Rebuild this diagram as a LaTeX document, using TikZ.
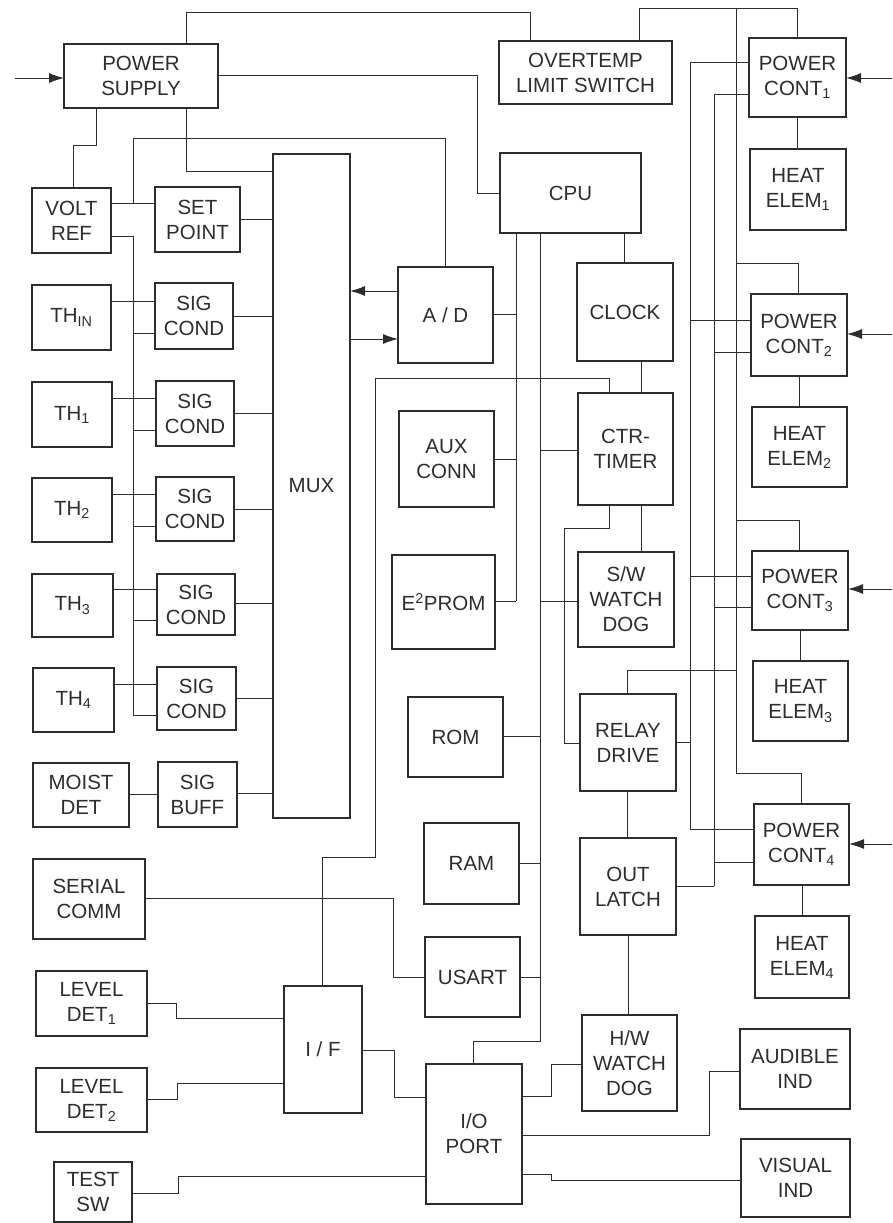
\documentclass[tikz,border=0pt]{standalone}
\usepackage{fontspec}
\setmainfont{Liberation Sans}
\usetikzlibrary{arrows.meta}
\definecolor{ink}{RGB}{45,45,45}
\newcommand\blk[6]{%
  \pgfmathsetmacro\blkw{#4-#2}%
  \pgfmathsetmacro\blkh{#5-#3}%
  \pgfmathsetmacro\blkx{(#2+#4)/2}%
  \pgfmathsetmacro\blky{(#3+#5)/2}%
  \node[box,minimum width=\blkw pt,minimum height=\blkh pt] (#1) at (\blkx,\blky) {#6};%
}
\begin{document}
\begin{tikzpicture}[x=1pt,y=-1pt,
  box/.style={draw=ink,line width=1.6pt,inner sep=0pt,outer sep=0pt,align=center,
    text=ink,font=\fontsize{20.5}{25}\selectfont},
  wire/.style={draw=ink,line width=1pt},
  arr/.style={wire,-{Latex[length=15pt,width=10pt]}}]
\useasboundingbox (0,0) rectangle (893,1223);
% left column
\blk{ps}{64}{44}{218}{108}{POWER\\SUPPLY}
\blk{volt}{32}{188}{111}{253}{VOLT\\REF}
\blk{setp}{155}{187}{240}{252}{SET\\POINT}
\blk{thin}{32}{285}{111}{350}{TH\textsubscript{IN}}
\blk{sc0}{155}{283}{233}{349}{SIG\\COND}
\blk{th1}{32}{382}{112}{447}{TH\textsubscript{1}}
\blk{sc1}{156}{381}{234}{446}{SIG\\COND}
\blk{th2}{32}{478}{112}{542}{TH\textsubscript{2}}
\blk{sc2}{156}{477}{234}{541}{SIG\\COND}
\blk{th3}{32}{574}{113}{637}{TH\textsubscript{3}}
\blk{sc3}{157}{574}{235}{635}{SIG\\COND}
\blk{th4}{33}{668}{114}{732}{TH\textsubscript{4}}
\blk{sc4}{157}{667}{236}{730}{SIG\\COND}
\blk{moist}{33}{763}{129}{827}{MOIST\\DET}
\blk{sbuf}{158}{762}{237}{827}{SIG\\BUFF}
\blk{serial}{33}{859}{145}{939}{SERIAL\\COMM}
\blk{lev1}{36}{971}{147}{1036}{LEVEL\\DET\textsubscript{1}}
\blk{lev2}{36}{1068}{147}{1132}{LEVEL\\DET\textsubscript{2}}
\blk{test}{54}{1162}{132}{1222}{TEST\\SW}
\blk{mux}{273}{154}{350}{818}{MUX}
% middle
\blk{ad}{398}{267}{493}{363}{A / D}
\blk{aux}{399}{411}{494}{507}{AUX\\CONN}
\blk{eprom}{392}{555}{495}{649}{E\textsuperscript{2}PROM}
\blk{rom}{408}{697}{503}{777}{ROM}
\blk{ram}{424}{823}{519}{904}{RAM}
\blk{usart}{425}{937}{520}{1017}{USART}
\blk{iface}{284}{986}{362}{1113}{I / F}
\blk{io}{426}{1064}{522}{1204}{I/O\\PORT}
\blk{ot}{499}{41}{672}{104}{OVERTEMP\\LIMIT SWITCH}
\blk{cpu}{500}{153}{641}{233}{CPU}
\blk{clock}{577}{263}{673}{361}{CLOCK}
\blk{ctr}{578}{393}{673}{505}{CTR-\\TIMER}
\blk{sw}{578}{552}{674}{647}{S/W\\WATCH\\DOG}
\blk{relay}{580}{694}{676}{791}{RELAY\\DRIVE}
\blk{latch}{580}{838}{676}{935}{OUT\\LATCH}
\blk{hw}{582}{1015}{677}{1111}{H/W\\WATCH\\DOG}
% right
\blk{pc1}{749}{38}{846}{117}{POWER\\CONT\textsubscript{1}}
\blk{he1}{750}{149}{846}{230}{HEAT\\ELEM\textsubscript{1}}
\blk{pc2}{751}{294}{847}{376}{POWER\\CONT\textsubscript{2}}
\blk{he2}{752}{407}{847}{487}{HEAT\\ELEM\textsubscript{2}}
\blk{pc3}{752}{551}{848}{630}{POWER\\CONT\textsubscript{3}}
\blk{he3}{753}{661}{848}{741}{HEAT\\ELEM\textsubscript{3}}
\blk{pc4}{754}{804}{849}{885}{POWER\\CONT\textsubscript{4}}
\blk{he4}{755}{916}{849}{998}{HEAT\\ELEM\textsubscript{4}}
\blk{aud}{740}{1029}{850}{1109}{AUDIBLE\\IND}
\blk{vis}{741}{1139}{850}{1217}{VISUAL\\IND}
% free ends
\coordinate (inps) at (15,78);
\coordinate (in1) at (892,78);
\coordinate (in2) at (892,334);
\coordinate (in3) at (892,589);
\coordinate (in4) at (892,844);
% input arrows
\draw[arr] (inps) -- (inps -| ps.west);
\draw[arr] (in1) -- (in1 -| pc1.east);
\draw[arr] (in2) -- (in2 -| pc2.east);
\draw[arr] (in3) -- (in3 -| pc3.east);
\draw[arr] (in4) -- (in4 -| pc4.east);
% power supply
\draw[wire] (ps.north -| 186,0) -- (186,13) -- (530,13) -- (ot.north -| 530,0);
\draw[wire] (ps.east |- 0,75) -- (477,75) -- (477,193) -- (cpu.west |- 0,193);
\draw[wire] (ps.south -| 96,0) -- (96,145) -- (73,145) -- (volt.north -| 73,0);
\draw[wire] (ps.south -| 186,0) -- (186,171) -- (mux.west |- 0,171);
% volt ref
\draw[wire] (volt.east |- 0,203) -- (setp.west |- 0,203);
\draw[wire] (133,203) -- (133,138) -- (445,138) -- (ad.north -| 445,0);
\draw[wire] (volt.east |- 0,236) -- (133,236) -- (133,715) -- (sc4.west |- 0,715);
\draw[wire] (133,333) -- (sc0.west |- 0,333);
\draw[wire] (133,430) -- (sc1.west |- 0,430);
\draw[wire] (133,526) -- (sc2.west |- 0,526);
\draw[wire] (133,620) -- (sc3.west |- 0,620);
\draw[wire] (setp.east |- 0,219) -- (mux.west |- 0,219);
% sensors
\draw[wire] (thin.east |- 0,301) -- (sc0.west |- 0,301);
\draw[wire] (th1.east |- 0,398) -- (sc1.west |- 0,398);
\draw[wire] (th2.east |- 0,494) -- (sc2.west |- 0,494);
\draw[wire] (th3.east |- 0,589) -- (sc3.west |- 0,589);
\draw[wire] (th4.east |- 0,684) -- (sc4.west |- 0,684);
\draw[wire] (moist.east |- 0,794) -- (sbuf.west |- 0,794);
\draw[wire] (sc0.east |- 0,316) -- (mux.west |- 0,316);
\draw[wire] (sc1.east |- 0,413) -- (mux.west |- 0,413);
\draw[wire] (sc2.east |- 0,509) -- (mux.west |- 0,509);
\draw[wire] (sc3.east |- 0,603) -- (mux.west |- 0,603);
\draw[wire] (sc4.east |- 0,698) -- (mux.west |- 0,698);
\draw[wire] (sbuf.east |- 0,793) -- (mux.west |- 0,793);
% mux - a/d
\draw[arr] (ad.west |- 0,291) -- (mux.east |- 0,291);
\draw[arr] (mux.east |- 0,339) -- (ad.west |- 0,339);
% cpu buses
\draw[wire] (cpu.south -| 516,0) -- (516,601);
\draw[wire] (ad.east |- 0,314) -- (516,314);
\draw[wire] (aux.east |- 0,459) -- (516,459);
\draw[wire] (eprom.east |- 0,601) -- (516,601);
\draw[wire] (cpu.south -| 540,0) -- (540,1041) -- (473,1041) -- (io.north -| 473,0);
\draw[wire] (ctr.west |- 0,450) -- (540,450);
\draw[wire] (sw.west |- 0,601) -- (540,601);
\draw[wire] (rom.east |- 0,736) -- (540,736);
\draw[wire] (ram.east |- 0,863) -- (540,863);
\draw[wire] (usart.east |- 0,977) -- (540,977);
% timing chain
\draw[wire] (cpu.south -| 624,0) -- (clock.north -| 624,0);
\draw[wire] (clock.south -| 641,0) -- (ctr.north -| 641,0);
\draw[wire] (ctr.north -| 609,0) -- (609,378) -- (375,378) -- (375,857) -- (322,857) -- (iface.north -| 322,0);
\draw[wire] (ctr.south -| 641,0) -- (sw.north -| 641,0);
\draw[wire] (ctr.south -| 609,0) -- (609,528) -- (564,528) -- (564,743) -- (relay.west |- 0,743);
\draw[wire] (relay.north -| 627,0) -- (627,670) -- (736,670);
\draw[wire] (relay.south -| 627,0) -- (latch.north -| 627,0);
\draw[wire] (latch.south -| 628,0) -- (hw.north -| 628,0);
\draw[wire] (relay.east |- 0,742) -- (690,742);
\draw[wire] (latch.east |- 0,886) -- (714,886);
% power control buses
\draw[wire] (pc1.west |- 0,63) -- (690,63) -- (690,829) -- (pc4.west |- 0,829);
\draw[wire] (690,320) -- (pc2.west |- 0,320);
\draw[wire] (690,576) -- (pc3.west |- 0,576);
\draw[wire] (pc1.west |- 0,94) -- (714,94) -- (714,886);
\draw[wire] (714,352) -- (pc2.west |- 0,352);
\draw[wire] (714,607) -- (pc3.west |- 0,607);
\draw[wire] (714,862) -- (pc4.west |- 0,862);
\draw[wire] (ot.north -| 639,0) -- (639,9) -- (797,9) -- (pc1.north -| 797,0);
\draw[wire] (736,9) -- (736,773) -- (801,773) -- (pc4.north -| 801,0);
\draw[wire] (736,263) -- (798,263) -- (pc2.north -| 798,0);
\draw[wire] (736,520) -- (799,520) -- (pc3.north -| 799,0);
\draw[wire] (pc1.south -| 797,0) -- (he1.north -| 797,0);
\draw[wire] (pc2.south -| 799,0) -- (he2.north -| 799,0);
\draw[wire] (pc3.south -| 800,0) -- (he3.north -| 800,0);
\draw[wire] (pc4.south -| 802,0) -- (he4.north -| 802,0);
% bottom I/O
\draw[wire] (serial.east |- 0,898) -- (393,898) -- (393,977) -- (usart.west |- 0,977);
\draw[wire] (lev1.east |- 0,1003) -- (176,1003) -- (176,1018) -- (iface.west |- 0,1018);
\draw[wire] (lev2.east |- 0,1099) -- (177,1099) -- (177,1083) -- (iface.west |- 0,1083);
\draw[wire] (test.east |- 0,1193) -- (178,1193) -- (178,1176) -- (io.west |- 0,1176);
\draw[wire] (iface.east |- 0,1050) -- (394,1050) -- (394,1097) -- (io.west |- 0,1097);
\draw[wire] (io.east |- 0,1096) -- (551,1096) -- (551,1064) -- (hw.west |- 0,1064);
\draw[wire] (io.east |- 0,1135) -- (709,1135) -- (709,1071) -- (aud.west |- 0,1071);
\draw[wire] (io.east |- 0,1174) -- (551,1174) -- (551,1180) -- (vis.west |- 0,1180);
\end{tikzpicture}
\end{document}
